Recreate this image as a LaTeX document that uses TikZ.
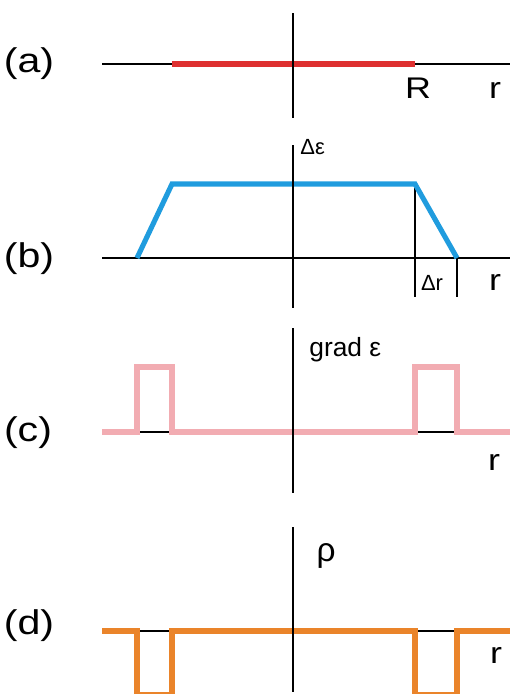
\documentclass[tikz,border=0pt]{standalone}
\usepackage{fontspec}
\setmainfont{Liberation Sans}
\newfontfamily\widefont{Liberation Sans}[FakeStretch=1.2]
\usetikzlibrary{positioning}
\definecolor{barred}{RGB}{222,48,48}
\definecolor{trapblue}{RGB}{32,156,222}
\definecolor{gradpink}{RGB}{242,172,178}
\definecolor{rhoorange}{RGB}{234,132,42}

\begin{document}
\begin{tikzpicture}[x=0.02cm, y=-0.02cm,
    every node/.style={inner sep=0pt, anchor=base},
    axisline/.style={draw=black, line width=1.1pt},
    profile/.style={line width=2.9pt, line join=miter},
    panel/.style={font=\widefont\fontsize{19.5}{24}\selectfont},
    biglbl/.style={font=\widefont\fontsize{17}{20}\selectfont},
    smalllbl/.style={font=\fontsize{12.5}{15}\selectfont}]
    \useasboundingbox (0,0) rectangle (510,694);
    \clip (0,0) rectangle (510,694);

    % (a) uniform charge
    \node[panel] (pa) at (29,72) {(a)};
    \draw[axisline] (102,64) -- (510,64);
    \draw[profile, barred] (172,64) -- (415,64);
    \draw[axisline] (293,13) -- (293,118);
    \node[biglbl] (aR) at (418,98) {R};
    \node[biglbl] (ar) at (495,98) {r};

    % (b) trapezoid
    \node[panel] (pb) at (29,267) {(b)};
    \draw[axisline] (102,258) -- (510,258);
    \draw[axisline] (415,184) -- (415,297);
    \draw[axisline] (457,258) -- (457,297);
    \draw[profile, trapblue] (137,258) -- (172,184) -- (415,184) -- (457,258);
    \draw[axisline] (293,145) -- (293,308);
    \node[smalllbl, anchor=base west] (bde) at (300,154) {Δε};
    \node[smalllbl] (bdr) at (432,290) {Δr};
    \node[biglbl] (br) at (495,290) {r};

    % (c) gradient
    \node[panel] (pc) at (28,441) {(c)};
    \draw[axisline] (102,432) -- (510,432);
    \draw[profile, gradpink] (102,432) -- (137,432) -- (137,367) -- (172,367) -- (172,432)
        -- (415,432) -- (415,367) -- (457,367) -- (457,432) -- (510,432);
    \draw[axisline] (293,328) -- (293,493);
    \node[font=\fontsize{15}{17}\selectfont, anchor=base west] (cgrad) at (309,356) {grad ε};
    \node[biglbl] (cr) at (494,470) {r};

    % (d) density
    \node[panel] (pd) at (29,634) {(d)};
    \draw[axisline] (102,631) -- (510,631);
    \draw[profile, rhoorange] (102,631) -- (137,631) -- (137,695) -- (172,695) -- (172,631)
        -- (415,631) -- (415,695) -- (457,695) -- (457,631) -- (510,631);
    \draw[axisline] (293,527) -- (293,692);
    \node[font=\fontsize{19}{22}\selectfont] (drho) at (326,561) {ρ};
    \node[biglbl] (dr) at (496,663) {r};
\end{tikzpicture}
\end{document}
